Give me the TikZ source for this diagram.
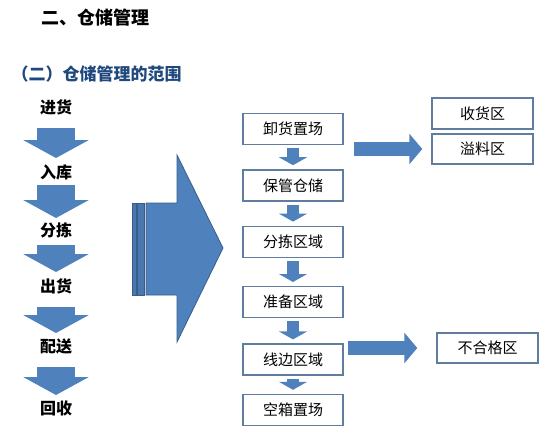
\documentclass[tikz,border=0pt]{standalone}
\usepackage{fontspec}
\newfontfamily\cjk{Noto Sans CJK SC}
\usetikzlibrary{arrows.meta,positioning}
\definecolor{arrowblue}{RGB}{79,129,189}
\definecolor{arrowedge}{RGB}{56,93,138}
\definecolor{boxedge}{RGB}{96,125,160}
\definecolor{headblue}{RGB}{31,73,125}
\tikzstyle{lbl}=[font=\cjk\bfseries\fontsize{16}{16}\selectfont, inner sep=0pt]
\tikzstyle{box}=[draw=boxedge, line width=1.4pt, minimum width=100pt, minimum height=31pt, inner sep=0pt, font=\cjk\fontsize{15}{15}\selectfont]
\tikzstyle{sidebox}=[box, minimum width=101pt, minimum height=30pt]
\tikzstyle{downarr}=[arrowblue, line width=38pt, -{Triangle[length=18pt,width=65pt]}]
\tikzstyle{smallarr}=[arrowblue, line width=12pt, -{Triangle[length=8pt,width=28pt]}, shorten <=3pt, shorten >=4pt]
\tikzstyle{rightarr}=[arrowblue, line width=14pt, -{Triangle[length=13pt,width=30pt]}]

\begin{document}
\begin{tikzpicture}
 [x=1pt, y=-1pt, node distance=24pt]
 \useasboundingbox (0,0) rectangle (553,434);
 \node[anchor=west, font=\cjk\bfseries\fontsize{18}{18}\selectfont] (title) at (38,18) {二、仓储管理};
 \node[anchor=west, text=headblue, font=\cjk\bfseries\fontsize{17}{17}\selectfont] (sub) at (8,74) {（二）仓储管理的范围};

 \node[lbl] (jh) at (56,107) {进货};
 \node[lbl] (rk) at (56,172) {入库};
 \node[lbl] (fj) at (56,230) {分拣};
 \node[lbl] (ch) at (56,286) {出货};
 \node[lbl] (ps) at (56,346) {配送};
 \node[lbl] (hs) at (56,408) {回收};
 \draw[downarr, shorten <=21pt, shorten >=14pt] (jh.center) -- (rk.center);
 \draw[downarr, shorten <=13pt, shorten >=12pt] (rk.center) -- (fj.center);
 \draw[downarr, shorten <=15pt, shorten >=14pt] (fj.center) -- (ch.center);
 \draw[downarr, shorten <=21pt, shorten >=13pt] (ch.center) -- (ps.center);
 \draw[downarr, shorten <=21pt, shorten >=13pt] (ps.center) -- (hs.center);

 \draw[arrowedge, fill=arrowblue!92!black, line width=0.6pt] (132,203) rectangle (136,295);
 \draw[arrowedge, fill=arrowblue!92!black, line width=0.6pt] (137.5,203) rectangle (144,295);
 \draw[arrowedge, fill=arrowblue, line width=0.8pt] (146,203) -- (177,203) -- (177,155) -- (223,248)
   -- (177,342) -- (177,295) -- (146,295) -- cycle;

 \node[box] (b1) at (293,129) {卸货置场};
 \node[box, below=of b1] (b2) {保管仓储};
 \node[box, below=of b2] (b3) {分拣区域};
 \node[box, below=28pt of b3] (b4) {准备区域};
 \node[box, below=25pt of b4] (b5) {线边区域};
 \node[box, below=18pt of b5] (b6) {空箱置场};
 \draw[smallarr] (b1) -- (b2);
 \draw[smallarr] (b2) -- (b3);
 \draw[smallarr] (b3) -- (b4);
 \draw[smallarr] (b4) -- (b5);
 \draw[smallarr] (b5) -- (b6);

 \node[sidebox, minimum height=31pt] (shq) at (482.5,113.5) {收货区};
 \node[sidebox] (ylq) at (482.5,149) {溢料区};
 \node[sidebox] (bhg) at (487.5,348) {不合格区};
 \draw[rightarr, shorten <=10pt, shorten >=9pt] (b1.east |- ylq.west) -- (ylq.west);
 \draw[rightarr, shorten <=4pt, shorten >=19pt] (b5.east |- bhg.west) -- (bhg.west);
\end{tikzpicture}
\end{document}
